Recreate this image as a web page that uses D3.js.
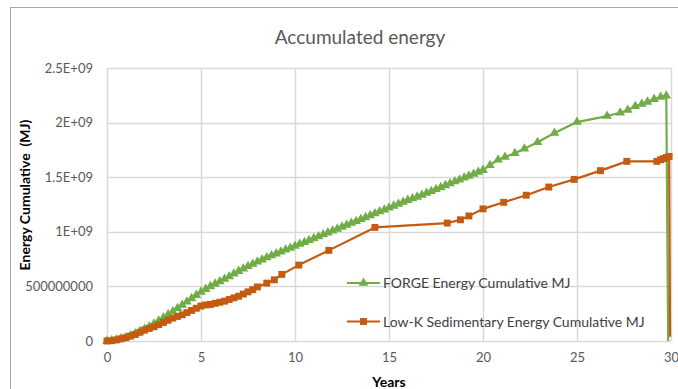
<!DOCTYPE html>
<html>
<head>
<meta charset="utf-8">
<script src="https://cdn.jsdelivr.net/npm/d3@7/dist/d3.min.js"></script>
<style>
  html, body { margin: 0; padding: 0; background: #fff; }
  svg text { font-family: Lato, "Open Sans", "Liberation Sans", sans-serif; }
</style>
</head>
<body>
<div id="chart"></div>
<script>
// Cumulative energy (MJ) per year for the two reservoirs
const forgeYears = [
  0, 0.25, 0.5, 0.75, 1, 1.25, 1.5, 1.75, 2, 2.25, 2.5, 2.75, 3, 3.25, 3.5, 3.75,
  4, 4.25, 4.5, 4.75, 5, 5.25, 5.5, 5.75, 6, 6.25, 6.5, 6.75, 7, 7.25, 7.5, 7.75,
  8, 8.25, 8.5, 8.75, 9, 9.25, 9.5, 9.75, 10, 10.25, 10.5, 10.75, 11, 11.25, 11.5, 11.75,
  12, 12.25, 12.5, 12.75, 13, 13.25, 13.5, 13.75, 14, 14.25, 14.5, 14.75, 15, 15.25, 15.5, 15.75,
  16, 16.25, 16.5, 16.75, 17, 17.25, 17.5, 17.75, 18, 18.25, 18.5, 18.75, 19, 19.25, 19.5, 19.75,
  20, 20.37, 20.8, 21.17, 21.7, 22.2, 22.9, 23.8, 25.0, 26.6, 27.3, 27.7, 28.1, 28.45, 28.75, 29.1,
  29.45, 29.75, 29.85
];
const forgeEnergy = [
  0, 0.005e9, 0.012e9, 0.022e9, 0.035e9, 0.05e9, 0.068e9, 0.088e9, 0.11e9, 0.133e9, 0.158e9, 0.185e9, 0.213e9, 0.242e9, 0.27e9, 0.3e9,
  0.33e9, 0.36e9, 0.39e9, 0.42e9, 0.45e9, 0.475e9, 0.5e9, 0.523e9, 0.545e9, 0.568e9, 0.59e9, 0.615e9, 0.64e9, 0.662e9, 0.685e9, 0.705e9,
  0.725e9, 0.745e9, 0.765e9, 0.783e9, 0.8e9, 0.818e9, 0.835e9, 0.852e9, 0.87e9, 0.888e9, 0.905e9, 0.922e9, 0.94e9, 0.957e9, 0.975e9, 0.992e9,
  1.01e9, 1.027e9, 1.045e9, 1.062e9, 1.08e9, 1.097e9, 1.115e9, 1.132e9, 1.15e9, 1.167e9, 1.185e9, 1.202e9, 1.22e9, 1.237e9, 1.255e9, 1.272e9,
  1.29e9, 1.305e9, 1.32e9, 1.337e9, 1.355e9, 1.372e9, 1.39e9, 1.407e9, 1.425e9, 1.442e9, 1.46e9, 1.477e9, 1.495e9, 1.512e9, 1.53e9, 1.547e9,
  1.565e9, 1.61e9, 1.66e9, 1.685e9, 1.72e9, 1.76e9, 1.82e9, 1.905e9, 2.005e9, 2.06e9, 2.09e9, 2.115e9, 2.15e9, 2.17e9, 2.19e9, 2.215e9,
  2.235e9, 2.245e9, 0
];

const lowKYears = [
  0, 0.25, 0.5, 0.75, 1, 1.25, 1.5, 1.75, 2, 2.25, 2.5, 2.75, 3, 3.25, 3.5, 3.75,
  4, 4.25, 4.5, 4.75, 5, 5.25, 5.5, 5.75, 6, 6.25, 6.5, 6.75, 7, 7.25, 7.5, 7.75,
  8, 8.5, 8.9, 9.3, 10.2, 11.8, 14.25, 18.1, 18.8, 19.25, 20.0, 21.1, 22.3, 23.5, 24.85, 26.25,
  27.65, 29.25, 29.45, 29.6, 29.75, 29.9, 29.95
];
const lowKEnergy = [
  0, 0.003e9, 0.01e9, 0.02e9, 0.03e9, 0.045e9, 0.06e9, 0.08e9, 0.1e9, 0.115e9, 0.13e9, 0.15e9, 0.17e9, 0.19e9, 0.21e9, 0.225e9,
  0.24e9, 0.26e9, 0.28e9, 0.3e9, 0.32e9, 0.33e9, 0.335e9, 0.345e9, 0.355e9, 0.365e9, 0.38e9, 0.395e9, 0.41e9, 0.43e9, 0.45e9, 0.47e9,
  0.495e9, 0.53e9, 0.56e9, 0.61e9, 0.695e9, 0.83e9, 1.04e9, 1.08e9, 1.11e9, 1.145e9, 1.21e9, 1.27e9, 1.335e9, 1.41e9, 1.48e9, 1.56e9,
  1.645e9, 1.645e9, 1.66e9, 1.67e9, 1.68e9, 1.69e9, 0.04e9
];

const xTicks = [0, 5, 10, 15, 20, 25, 30];
const yTicks = [0, 0.5e9, 1e9, 1.5e9, 2e9, 2.5e9];
const yTickLabels = ["0", "500000000", "1E+09", "1.5E+09", "2E+09", "2.5E+09"];

const seriesNames = ["FORGE Energy Cumulative MJ", "Low-K Sedimentary Energy Cumulative MJ"];
const seriesColors = ["#70AD47", "#C55A11"];

const W = 678, H = 389;
const plot = { left: 107, right: 671, top: 68, bottom: 341 };

const svg = d3.select("#chart").append("svg")
  .attr("width", W).attr("height", H)
  .attr("viewBox", `0 0 ${W} ${H}`);

// outer chart frame
svg.append("rect")
  .attr("x", 10.5).attr("y", 7.5)
  .attr("width", W + 10).attr("height", H + 10)
  .attr("fill", "#fff").attr("stroke", "#a6a6a6").attr("stroke-width", 1);

const x = d3.scaleLinear().domain([0, 30]).range([plot.left, plot.right]);
const y = d3.scaleLinear().domain([0, 2.5e9]).range([plot.bottom, plot.top]);

// gridlines
svg.append("g").selectAll("line").data(yTicks).join("line")
  .attr("x1", plot.left).attr("x2", plot.right)
  .attr("y1", d => Math.round(y(d)) + 0.5).attr("y2", d => Math.round(y(d)) + 0.5)
  .attr("stroke", "#d9d9d9").attr("stroke-width", 1.5);
svg.append("g").selectAll("line").data(xTicks).join("line")
  .attr("y1", plot.top).attr("y2", plot.bottom)
  .attr("x1", d => Math.round(x(d)) + 0.5).attr("x2", d => Math.round(x(d)) + 0.5)
  .attr("stroke", "#d9d9d9").attr("stroke-width", 1.5);

// axes (labels only; lines come from the grid)
const xAxis = d3.axisBottom(x).tickValues(xTicks).tickSize(0).tickPadding(12);
const gx = svg.append("g").attr("transform", `translate(0,${plot.bottom})`).call(xAxis);
gx.select(".domain").remove();
gx.selectAll("text").attr("fill", "#595959").style("font-size", "13px");

const yAxis = d3.axisLeft(y).tickValues(yTicks)
  .tickFormat((d, i) => yTickLabels[i]).tickSize(0).tickPadding(14);
const gy = svg.append("g").attr("transform", `translate(${plot.left},0)`).call(yAxis);
gy.select(".domain").remove();
gy.selectAll("text").attr("fill", "#595959").style("font-size", "13px");

// series
const series = [
  { name: seriesNames[0], color: seriesColors[0], pts: forgeYears.map((t, i) => [t, forgeEnergy[i]]), marker: "tri" },
  { name: seriesNames[1], color: seriesColors[1], pts: lowKYears.map((t, i) => [t, lowKEnergy[i]]), marker: "sq" }
];

const line = d3.line().x(d => x(d[0])).y(d => y(d[1]));
const triSym = d3.symbol().type(d3.symbolTriangle).size(40);
const sqSym = d3.symbol().type(d3.symbolSquare).size(48);

series.forEach(s => {
  const g = svg.append("g");
  g.append("path").datum(s.pts).attr("d", line)
    .attr("fill", "none").attr("stroke", s.color).attr("stroke-width", 2.2)
    .attr("stroke-linejoin", "round");
  // markers on every sample except the closing drop
  g.selectAll("path.m").data(s.pts.slice(0, -1)).join("path")
    .attr("class", "m")
    .attr("transform", d => `translate(${x(d[0])},${y(d[1])})`)
    .attr("d", s.marker === "tri" ? triSym() : sqSym())
    .attr("fill", s.color);
});

// title
svg.append("text").attr("x", 360).attr("y", 44).attr("text-anchor", "middle")
  .attr("fill", "#595959").style("font-size", "19px").text("Accumulated energy");

// axis titles
svg.append("text").attr("x", 389).attr("y", 387).attr("text-anchor", "middle")
  .attr("fill", "#000").style("font-size", "14px").style("font-weight", "bold").text("Years");
svg.append("text").attr("transform", "translate(30,195) rotate(-90)").attr("text-anchor", "middle")
  .attr("fill", "#000").style("font-size", "14px").style("font-weight", "bold")
  .style("white-space", "pre").text("Energy Cumulative  (MJ)");

// legend
const legend = svg.append("g");
series.forEach((s, i) => {
  const ly = 283 + i * 38.5;
  legend.append("line").attr("x1", 347).attr("x2", 380).attr("y1", ly).attr("y2", ly)
    .attr("stroke", s.color).attr("stroke-width", 2.2);
  legend.append("path").attr("transform", `translate(363.5,${ly})`)
    .attr("d", s.marker === "tri" ? triSym() : sqSym()).attr("fill", s.color);
  legend.append("text").attr("x", 383).attr("y", ly + 5)
    .attr("fill", "#404040").style("font-size", "14px").text(s.name);
});
</script>
</body>
</html>
